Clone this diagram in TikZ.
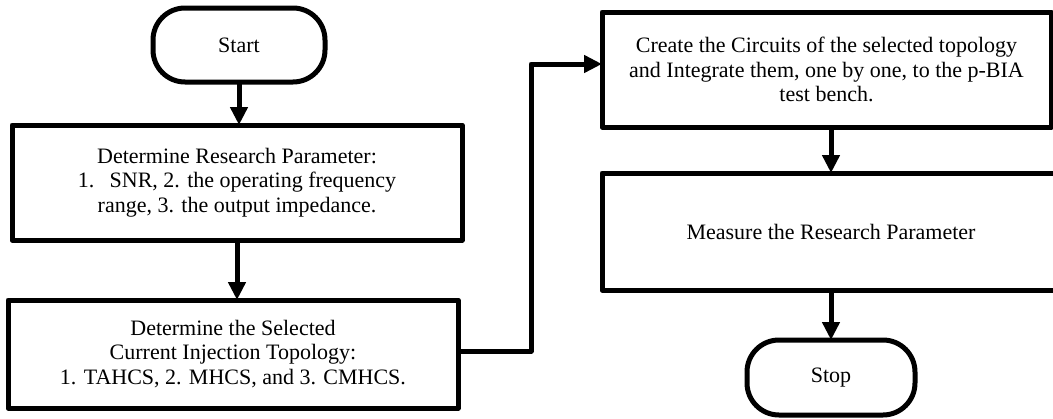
\documentclass[tikz,border=0pt]{standalone}
\usepackage{fontspec}
\setmainfont{Liberation Serif}
\usetikzlibrary{arrows.meta}
\begin{document}
\begin{tikzpicture}[x=1pt,y=-1pt,
  every node/.style={inner sep=0pt,outer sep=0pt,align=center,
    font=\fontsize{22}{24.5}\selectfont},
  procbox/.style={draw,line width=5pt,line join=round,rectangle},
  termbox/.style={draw,line width=5pt,rectangle,rounded corners=32pt},
  arr/.style={line width=5pt,line join=round,-{Triangle[width=17pt,length=18pt]}}]
\useasboundingbox (0,0) rectangle (1053,418);
\clip (0,0) rectangle (1053,418);
\node[termbox,minimum width=172pt,minimum height=74pt] (start) at (239,45) {Start};
\node[procbox,minimum width=450pt,minimum height=115pt] (box1) at (237,182.5)
  {Determine Research Parameter:\\1.\hspace{0.7em}SNR, 2. the operating frequency\\range, 3. the output impedance.};
\node[procbox,minimum width=450pt,minimum height=108pt] (box2) at (233,354)
  {Determine the Selected\\Current Injection Topology:\\1. TAHCS, 2. MHCS, and 3. CMHCS.};
\node[procbox,minimum width=449pt,minimum height=115pt] (box3) at (826.5,69.5)
  {Create the Circuits of the selected topology\\and Integrate them, one by one, to the p-BIA\\test bench.};
\node[procbox,minimum width=458pt,minimum height=117pt] (box4) at (831,231.5)
  {Measure the Research Parameter};
\node[termbox,minimum width=168pt,minimum height=75pt] (stop) at (831,377.5) {Stop};
\coordinate (bend) at (531,64);
\draw[arr] (start.south) -- (start.south|-box1.north);
\draw[arr] (box1.south) -- (box1.south|-box2.north);
\draw[arr] ([yshift=3pt]box2.east) -| (bend) -- (bend-|box3.west);
\draw[arr] (box3.south-|box4.north) -- (box4.north);
\draw[arr] (box4.south) -- (stop.north);
\end{tikzpicture}
\end{document}
